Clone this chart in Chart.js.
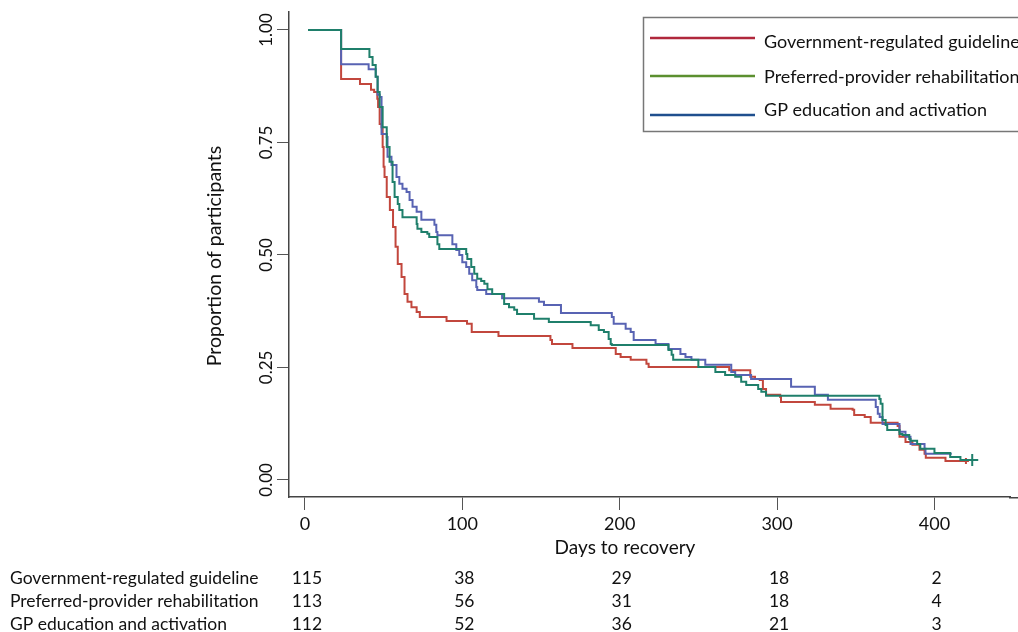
<!DOCTYPE html>
<html>
<head>
<meta charset="utf-8">
<script src="https://cdn.jsdelivr.net/npm/chart.js@4.4.1/dist/chart.umd.min.js"></script>
<style>
  html, body { margin: 0; padding: 0; background: #fff; overflow: hidden; }
  #wrap { width: 1018px; height: 632px; }
</style>
</head>
<body>
<div id="wrap"><canvas id="km" width="1018" height="632"></canvas></div>
<script>
// Kaplan-Meier curves: event days and proportion not yet recovered after each step
const SERIES_NAMES = ["Government-regulated guideline", "Preferred-provider rehabilitation", "GP education and activation"];

const govDays = [2, 23, 35, 42, 44, 46, 46.5, 47.5, 48.7, 49.4, 50, 50.6, 52, 54, 56, 57.6, 59, 61.4, 63.3, 65.2, 67.7, 71, 73,
  90, 103, 106, 123, 156, 157, 170, 197.5, 200.6, 207, 217, 218.4, 269.6, 283, 286, 289, 291, 293, 302, 302.5, 324, 334,
  348, 349, 355.7, 359.5, 376.6, 377.8, 381.6, 386, 390.5, 393.7, 394.5, 407, 420];
const govSurv = [1, 0.891, 0.880, 0.867, 0.862, 0.847, 0.829, 0.791, 0.784, 0.740, 0.696, 0.673, 0.629, 0.600, 0.562, 0.518, 0.480, 0.451, 0.413, 0.396, 0.384, 0.373, 0.362,
  0.353, 0.347, 0.329, 0.320, 0.311, 0.302, 0.293, 0.280, 0.273, 0.267, 0.258, 0.251, 0.244, 0.229, 0.224, 0.222, 0.202, 0.189, 0.184, 0.173, 0.167, 0.158,
  0.156, 0.144, 0.140, 0.127, 0.120, 0.096, 0.084, 0.078, 0.067, 0.058, 0.049, 0.042, 0.042];

const prefDays = [2, 23, 41, 43, 45, 46.2, 47.5, 49.4, 52, 53.8, 55.7, 57, 59, 60, 62, 71, 71.5, 74, 77.8, 79, 84.2, 85.4,
  102.5, 103.2, 105.7, 107.6, 109.5, 112, 114, 116, 119, 126.6, 129.7, 133, 134.8, 145.6, 155, 181.6, 186.7, 190, 193, 194.3, 195,
  231, 233, 234, 250, 260.8, 267, 273.4, 277.2, 280.4, 288, 290, 293, 365, 365.8, 367, 369, 370, 377.8, 379.7, 384, 384.8,
  389, 391, 400, 410, 416.5, 424];
const prefSurv = [1, 0.958, 0.940, 0.922, 0.896, 0.862, 0.829, 0.784, 0.740, 0.707, 0.662, 0.629, 0.613, 0.600, 0.584, 0.569, 0.558, 0.551, 0.547, 0.540, 0.524, 0.513,
  0.502, 0.491, 0.473, 0.458, 0.447, 0.442, 0.436, 0.424, 0.413, 0.391, 0.384, 0.378, 0.369, 0.358, 0.351, 0.344, 0.333, 0.329, 0.313, 0.302, 0.300,
  0.289, 0.278, 0.267, 0.251, 0.240, 0.233, 0.229, 0.218, 0.211, 0.202, 0.196, 0.187, 0.180, 0.169, 0.133, 0.122, 0.111, 0.102, 0.100, 0.091, 0.087,
  0.080, 0.069, 0.060, 0.051, 0.044, 0.044];

const gpDays = [2, 23, 40.5, 45, 46.2, 47.5, 48.7, 52, 52.5, 55, 58.2, 60, 62, 64.6, 66.5, 68.4, 71, 74, 82.3, 83.5, 84.2,
  93.7, 96.2, 98.1, 100, 102.5, 104.4, 106.3, 108.9, 109.5, 115.2, 125.3, 148.7, 151.9, 162.7, 195, 196.2, 203.8, 207, 208.9,
  222.8, 231, 238.6, 241.8, 245.6, 254.4, 270.9, 273.4, 283.5, 308.9, 324, 332.3, 362.7, 364, 365.2, 367, 377.8, 381.6,
  384.8, 393.7, 394.3, 411];
const gpSurv = [1, 0.924, 0.913, 0.896, 0.856, 0.851, 0.769, 0.762, 0.718, 0.700, 0.673, 0.658, 0.647, 0.640, 0.622, 0.607, 0.596, 0.578, 0.567, 0.551, 0.544,
  0.524, 0.511, 0.500, 0.484, 0.473, 0.458, 0.444, 0.429, 0.422, 0.413, 0.404, 0.396, 0.389, 0.371, 0.362, 0.347, 0.336, 0.329, 0.311,
  0.302, 0.291, 0.280, 0.273, 0.267, 0.256, 0.240, 0.233, 0.224, 0.207, 0.189, 0.178, 0.162, 0.147, 0.140, 0.124, 0.107, 0.096,
  0.080, 0.069, 0.058, 0.058];

// numbers at risk
const riskTimes = [0, 100, 200, 300, 400];
const riskGov = [115, 38, 29, 18, 2];
const riskPref = [113, 56, 31, 18, 4];
const riskGP = [112, 52, 36, 21, 3];

const yTicks = [0, 0.25, 0.5, 0.75, 1];
const yTickLabels = ["0.00", "0.25", "0.50", "0.75", "1.00"];

const FONT = "Lato";
Chart.defaults.font.family = FONT;
Chart.defaults.color = "#111";

const lineColors = ["#c2473d", "#1f7f6b", "#5863b3"];
const legendColors = ["#b0283c", "#5b8f2f", "#1f4f8e"];

function toPoints(days, surv) {
  return days.map((d, i) => ({ x: d, y: surv[i] }));
}

function lastOnly(r) {
  return ctx => (ctx.dataIndex === ctx.dataset.data.length - 1 ? r : 0);
}

// draws the text around the plot: rotated y ticks, axis titles, legend box, at-risk table
const extrasPlugin = {
  id: "extras",
  afterDraw(chart) {
    const ctx = chart.ctx;
    const xs = chart.scales.x, ys = chart.scales.y;
    const area = chart.chartArea;
    ctx.save();

    // carry the x axis line on to the edge of the picture
    ctx.strokeStyle = "#444";
    ctx.lineWidth = 1.5;
    ctx.beginPath();
    ctx.moveTo(area.right - 1, area.bottom + 0.75);
    ctx.lineTo(chart.width, area.bottom + 0.75);
    ctx.stroke();

    ctx.fillStyle = "#111";

    // y tick labels (rotated)
    ctx.font = `17px ${FONT}`;
    ctx.textAlign = "center";
    ctx.textBaseline = "middle";
    yTicks.forEach((v, i) => {
      ctx.save();
      ctx.translate(267, ys.getPixelForValue(v));
      ctx.rotate(-Math.PI / 2);
      ctx.fillText(yTickLabels[i], 0, 0);
      ctx.restore();
    });

    // y title
    ctx.save();
    ctx.font = `19.5px ${FONT}`;
    ctx.translate(215, 256);
    ctx.rotate(-Math.PI / 2);
    ctx.fillText("Proportion of participants", 0, 0);
    ctx.restore();

    // x title
    ctx.font = `19px ${FONT}`;
    ctx.fillText("Days to recovery", 625, 548);

    // at-risk table
    const rows = [riskGov, riskPref, riskGP];
    const rowY = [578, 601, 624];
    ctx.font = `17.5px ${FONT}`;
    rows.forEach((row, r) => {
      ctx.textAlign = "left";
      ctx.fillText(SERIES_NAMES[r], 10, rowY[r]);
      ctx.textAlign = "center";
      row.forEach((n, i) => ctx.fillText(String(n), xs.getPixelForValue(riskTimes[i]) + 2, rowY[r]));
    });

    // legend box
    ctx.strokeStyle = "#777";
    ctx.lineWidth = 1.5;
    ctx.strokeRect(643.5, 17.5, 420, 114);
    const legY = [38, 76, 115];
    const legTextY = [42, 77, 110];
    ctx.font = `18px ${FONT}`;
    ctx.textAlign = "left";
    SERIES_NAMES.forEach((name, i) => {
      ctx.strokeStyle = legendColors[i];
      ctx.lineWidth = 2.5;
      ctx.beginPath();
      ctx.moveTo(650, legY[i]);
      ctx.lineTo(755, legY[i]);
      ctx.stroke();
      ctx.fillText(name, 764, legTextY[i]);
    });
    ctx.restore();
  }
};

const lineStyle = {
  stepped: "before",
  borderWidth: 2,
  fill: false,
  pointStyle: "cross",
  pointHoverRadius: 0
};

new Chart(document.getElementById("km"), {
  type: "line",
  data: {
    datasets: [
      Object.assign({ label: SERIES_NAMES[0], data: toPoints(govDays, govSurv), borderColor: lineColors[0],
        pointBorderColor: lineColors[0], pointRadius: lastOnly(3), order: 3 }, lineStyle),
      Object.assign({ label: SERIES_NAMES[1], data: toPoints(prefDays, prefSurv), borderColor: lineColors[1],
        pointBorderColor: lineColors[1], pointRadius: lastOnly(6), order: 1 }, lineStyle),
      Object.assign({ label: SERIES_NAMES[2], data: toPoints(gpDays, gpSurv), borderColor: lineColors[2],
        pointBorderColor: lineColors[2], pointRadius: lastOnly(0), order: 2 }, lineStyle)
    ]
  },
  options: {
    responsive: false,
    animation: false,
    devicePixelRatio: 1,
    layout: { padding: { top: 12, left: 0, right: 0, bottom: 0 } },
    plugins: { legend: { display: false }, tooltip: { enabled: false } },
    scales: {
      x: {
        type: "linear",
        min: -10.1,
        max: 448,
        afterBuildTicks: s => { s.ticks = riskTimes.map(v => ({ value: v })); },
        afterFit: s => { s.height = 135; },
        border: { color: "#444", width: 1.5 },
        grid: { drawOnChartArea: false, drawTicks: true, tickLength: 13, color: "#555", lineWidth: 1 },
        ticks: { font: { size: 18 }, padding: 3, maxRotation: 0, color: "#111" }
      },
      y: {
        type: "linear",
        min: -0.038,
        max: 1.04,
        afterBuildTicks: s => { s.ticks = yTicks.map(v => ({ value: v })); },
        afterFit: s => { s.width = 289; },
        border: { color: "#444", width: 1.5 },
        grid: { drawOnChartArea: false, drawTicks: true, tickLength: 12, color: "#555", lineWidth: 1 },
        ticks: { display: false }
      }
    }
  },
  plugins: [extrasPlugin]
});
</script>
</body>
</html>
